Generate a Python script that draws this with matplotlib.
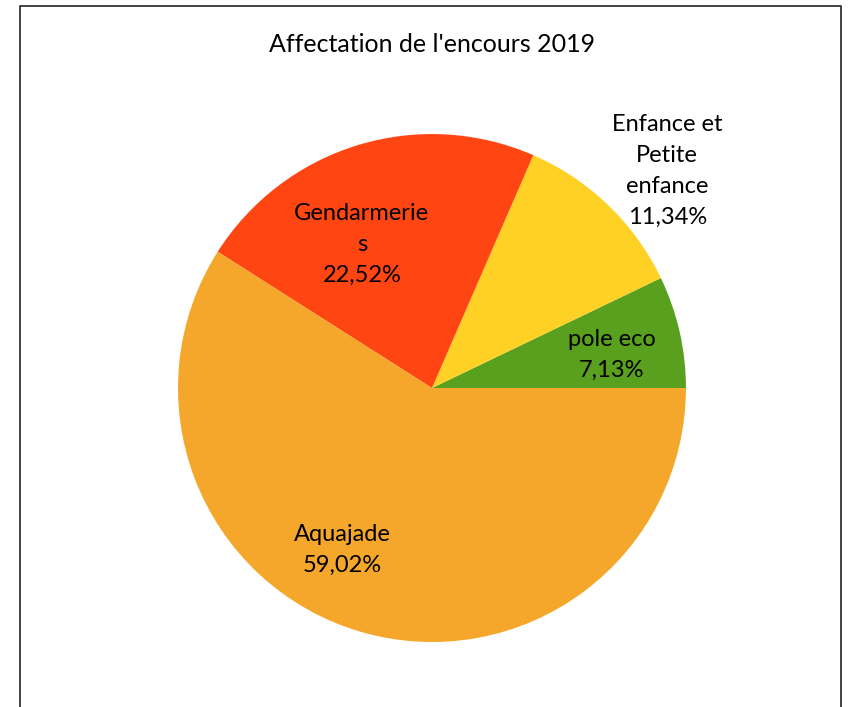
import matplotlib.pyplot as plt
import numpy as np

# data
labels = ["pole eco", "Enfance et\nPetite\nenfance", "Gendarmerie\ns", "Aquajade"]
values = [7.13, 11.34, 22.52, 59.02]
pct_text = ["7,13%", "11,34%", "22,52%", "59,02%"]
colors = ["#58A01E", "#FFD124", "#FF4612", "#F5A72B"]

# where excel put each label: (radius fraction, angle in degrees)
label_pos = [(0.72, 10.4), (1.26, 42.7), (0.63, 116.0), (0.73, 241.0)]

plt.rcParams['font.family'] = ['Lato', 'DejaVu Sans']

fig = plt.figure(figsize=(8.48, 7.07), dpi=100)
ax = fig.add_axes([0.5094 - 0.2995, 0.4512 - 0.3593, 0.599, 0.7185])
ax.pie(values, colors=colors, startangle=0, counterclock=True, radius=1,
       wedgeprops=dict(linewidth=0))
ax.set_xlim(-1, 1)
ax.set_ylim(-1, 1)
ax.set_aspect('equal')
ax.axis('off')

for lab, pct, (r, a) in zip(labels, pct_text, label_pos):
    t = np.deg2rad(a)
    ax.text(r * np.cos(t), r * np.sin(t), lab + "\n" + pct, ha='center', va='center',
            fontsize=17, linespacing=1.6, color='black')

fig.text(0.5094, 1 - 44 / 707, "Affectation de l'encours 2019", ha='center', va='center',
         fontsize=18, color='black')

# chart frame (bottom edge is cut off in the original)
x0, x1 = 19.5 / 848, 840.5 / 848
y0 = 1 - 5.5 / 707
fig.add_artist(plt.Line2D([x0, x0, x1, x1], [-0.01, y0, y0, -0.01],
                          transform=fig.transFigure, color='#333333', lw=1.3))

fig.savefig("out.png", dpi=100)
